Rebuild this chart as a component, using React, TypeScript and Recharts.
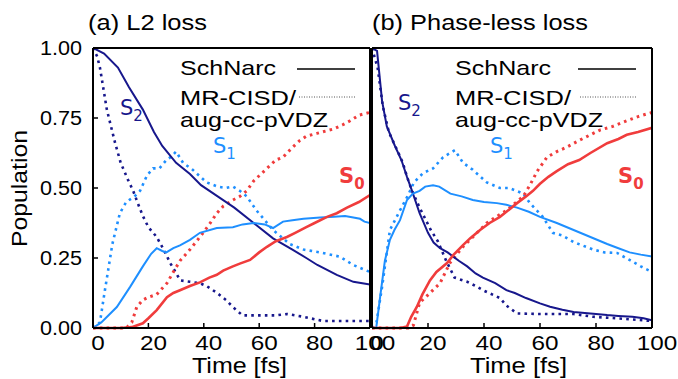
import { LineChart, Line, XAxis, YAxis } from "recharts";

type Pt = [number, number];

// (a) L2 loss — [time fs, population]
const l2SchS2: Pt[] = [[0, 1.0], [4, 0.98], [9, 0.93], [13, 0.86], [18, 0.78], [22, 0.7], [25, 0.65], [30, 0.59], [35, 0.55], [39, 0.51], [45, 0.47], [51, 0.43], [58, 0.375], [65, 0.32], [72, 0.28], [77, 0.25], [81, 0.225], [88, 0.19], [94, 0.165], [100, 0.155]];
const l2RefS2: Pt[] = [[0, 1.0], [1.5, 0.97], [2.5, 0.93], [5, 0.78], [8, 0.66], [10, 0.59], [12.6, 0.53], [14.5, 0.49], [16, 0.45], [18, 0.4], [20, 0.36], [23, 0.325], [25.5, 0.28], [28, 0.23], [31.5, 0.17], [35, 0.165], [38.6, 0.16], [41, 0.15], [44.8, 0.125], [48, 0.1], [50.5, 0.075], [54, 0.045], [62, 0.045], [66, 0.045], [70, 0.05], [76, 0.04], [83, 0.025], [100, 0.025]];
const l2SchS1: Pt[] = [[0, 0], [3, 0.02], [8.6, 0.075], [13.4, 0.147], [18, 0.22], [21, 0.265], [23, 0.285], [25, 0.275], [26.5, 0.27], [29, 0.285], [31.4, 0.295], [35, 0.315], [38.6, 0.34], [44.7, 0.357], [50.5, 0.36], [54, 0.37], [58, 0.375], [62, 0.37], [65, 0.357], [68.6, 0.38], [72, 0.385], [76, 0.39], [82, 0.395], [87, 0.397], [91, 0.4], [94, 0.395], [96.4, 0.39], [98, 0.38], [100, 0.375]];
const l2RefS1: Pt[] = [[0, 0], [2.5, 0.02], [4.3, 0.135], [7, 0.3], [9.7, 0.41], [12, 0.45], [15, 0.47], [17, 0.49], [19.5, 0.545], [21.7, 0.57], [24, 0.57], [26.5, 0.6], [28, 0.61], [30, 0.63], [32.5, 0.59], [36, 0.565], [41, 0.52], [45, 0.505], [48, 0.5], [50.5, 0.505], [53, 0.49], [55.5, 0.47], [59, 0.42], [65, 0.35], [71, 0.3], [76, 0.28], [82, 0.27], [89, 0.255], [94, 0.225], [100, 0.2]];
const l2SchS0: Pt[] = [[0, 0], [10, 0], [14, 0.003], [18, 0.017], [20, 0.035], [23, 0.064], [26.7, 0.11], [29, 0.125], [31.4, 0.135], [35, 0.15], [38.6, 0.163], [42, 0.18], [44.7, 0.19], [47, 0.205], [50.5, 0.22], [53, 0.23], [56.7, 0.243], [60, 0.27], [62.8, 0.29], [66, 0.31], [70, 0.325], [73, 0.34], [77, 0.36], [80, 0.375], [84.5, 0.397], [88, 0.41], [91.7, 0.43], [96, 0.45], [100, 0.475]];
const l2RefS0: Pt[] = [[0, 0], [12, 0], [14, 0.02], [15.8, 0.075], [18, 0.1], [20, 0.11], [23, 0.12], [26.7, 0.16], [29, 0.2], [31.4, 0.24], [35, 0.28], [38.6, 0.325], [42, 0.37], [44.7, 0.41], [47, 0.435], [50.5, 0.457], [53, 0.47], [55.5, 0.49], [58, 0.525], [62.8, 0.57], [66, 0.6], [68.6, 0.61], [72, 0.645], [74.7, 0.67], [77, 0.685], [80.8, 0.695], [86.6, 0.71], [90, 0.725], [92.8, 0.74], [96, 0.76], [100, 0.77]];

// (b) Phase-less loss
const plSchS2: Pt[] = [[0, 1.0], [1.8, 0.99], [3.6, 0.81], [5.3, 0.72], [8.2, 0.65], [10.5, 0.6], [12.5, 0.54], [14.3, 0.49], [17, 0.41], [20, 0.34], [22, 0.305], [24.3, 0.285], [27, 0.27], [29, 0.255], [31, 0.24], [34, 0.22], [37, 0.195], [39.6, 0.18], [44, 0.16], [48, 0.135], [51, 0.125], [55, 0.107], [60, 0.088], [63.6, 0.076], [68, 0.065], [72, 0.057], [78, 0.052], [84, 0.046], [88, 0.043], [93, 0.04], [97, 0.035], [100, 0.028]];
const plRefS2: Pt[] = [[0, 1.0], [2, 0.93], [3.9, 0.79], [6, 0.7], [9, 0.635], [11, 0.59], [12.5, 0.54], [14.3, 0.49], [17, 0.43], [19, 0.39], [21, 0.35], [23.5, 0.31], [26.5, 0.24], [29.5, 0.18], [34, 0.165], [37, 0.15], [39.6, 0.135], [45.7, 0.107], [48, 0.08], [51.8, 0.052], [60, 0.05], [72, 0.05], [79, 0.04], [87, 0.035], [100, 0.025]];
const plSchS1: Pt[] = [[0, 0], [1.5, 0], [2.9, 0.11], [4.6, 0.24], [6.4, 0.315], [8, 0.35], [10, 0.385], [12.5, 0.457], [14.6, 0.48], [17, 0.49], [19, 0.505], [21.8, 0.51], [24, 0.505], [28, 0.48], [32, 0.47], [36, 0.457], [40, 0.45], [44.6, 0.446], [48, 0.44], [51.8, 0.43], [56, 0.415], [60, 0.397], [66, 0.375], [72, 0.35], [78, 0.325], [84, 0.3], [88, 0.285], [92, 0.27], [96, 0.262], [100, 0.255]];
const plRefS1: Pt[] = [[0, 0], [1.6, 0.02], [3.6, 0.147], [6.4, 0.35], [10, 0.42], [12.9, 0.475], [15, 0.52], [18.2, 0.553], [21.8, 0.57], [25.4, 0.61], [29.6, 0.635], [32.5, 0.59], [36, 0.565], [41, 0.52], [45.7, 0.5], [49, 0.5], [54, 0.48], [56.4, 0.446], [61, 0.397], [64.6, 0.34], [68, 0.33], [72, 0.307], [79, 0.28], [83, 0.27], [87.5, 0.268], [92, 0.243], [96, 0.22], [100, 0.2]];
const plSchS0: Pt[] = [[0, 0], [10, 0], [12.5, 0.005], [14, 0.04], [16, 0.075], [18, 0.12], [20.7, 0.17], [23, 0.2], [26.8, 0.232], [29, 0.26], [32.5, 0.296], [35, 0.32], [38.6, 0.35], [42, 0.375], [45.7, 0.397], [48, 0.415], [51.8, 0.446], [55, 0.47], [57.5, 0.49], [60, 0.515], [63, 0.54], [66, 0.56], [70, 0.585], [74, 0.6], [78, 0.625], [84, 0.66], [88, 0.675], [91, 0.69], [95, 0.7], [100, 0.715]];
const plRefS0: Pt[] = [[0, 0], [13, 0], [14.8, 0.01], [17, 0.09], [20.7, 0.125], [24.3, 0.16], [27.8, 0.232], [32.5, 0.29], [37.5, 0.34], [41, 0.375], [44, 0.395], [48, 0.42], [51, 0.445], [54, 0.47], [56.4, 0.51], [59, 0.56], [62.5, 0.61], [66, 0.63], [69.6, 0.646], [74, 0.67], [78, 0.69], [81.4, 0.707], [86, 0.72], [91, 0.74], [95, 0.755], [100, 0.77]];

const xTicks = [0, 20, 40, 60, 80, 100];
const yTicks = [0, 0.25, 0.5, 0.75, 1.0];

const NAVY = "#17178c";
const BLUE = "#1e8fff";
const RED = "#f03c3c";
const FONT = "'Liberation Sans', Arial, sans-serif";

// merge point lists into one table keyed by time
function buildTable(series: Record<string, Pt[]>) {
  const rows = new Map<number, Record<string, number>>();
  for (const key of Object.keys(series)) {
    for (const [t, v] of series[key]) {
      const row = rows.get(t) ?? { t };
      row[key] = v;
      rows.set(t, row);
    }
  }
  return [...rows.values()].sort((a, b) => a.t - b.t);
}

const frame = { stroke: "#000", strokeWidth: 2 };
const tickLn = { stroke: "#000", strokeWidth: 1.5 };

// the source figure is a bit stretched sideways, so labels get a fixed width
function XTick(props: any) {
  const s = String(props.payload.value);
  return (
    <text x={props.x + 5} y={props.y} dy="0.71em" textAnchor="middle" fontSize={21} fontFamily={FONT}
      fill="#000" textLength={s.length * 13.5} lengthAdjust="spacingAndGlyphs">{s}</text>
  );
}

function YTick(props: any) {
  const s = Number(props.payload.value).toFixed(2);
  return (
    <text x={props.x} y={props.y} dy="0.36em" textAnchor="end" fontSize={20} fontFamily={FONT}
      fill="#000" textLength={42} lengthAdjust="spacingAndGlyphs">{s}</text>
  );
}

interface PanelProps {
  data: Record<string, number>[];
  width: number;
  margin: { top: number; right: number; bottom: number; left: number };
  showY: boolean;
}

function Panel({ data, width, margin, showY }: PanelProps) {
  const dotted = { strokeWidth: 2.6, strokeDasharray: "2.6 4.2", dot: false, connectNulls: true, isAnimationActive: false, type: "linear" as const, xAxisId: "b", yAxisId: "l" };
  const solid = { dot: false, connectNulls: true, isAnimationActive: false, type: "linear" as const, xAxisId: "b", yAxisId: "l" };
  return (
    <LineChart width={width} height={379} data={data} margin={margin}>
      <XAxis xAxisId="b" dataKey="t" type="number" domain={[0, 100]} ticks={xTicks} allowDataOverflow
        height={30} axisLine={frame} tickLine={tickLn} tickSize={-5} tickMargin={12}
        tick={XTick} interval={0} />
      <XAxis xAxisId="top" orientation="top" dataKey="t" type="number" domain={[0, 100]} ticks={xTicks}
        height={1} axisLine={frame} tickLine={tickLn} tickSize={-5} tick={false} />
      {showY ? (
        <YAxis yAxisId="l" type="number" domain={[0, 1]} ticks={yTicks} width={60}
          axisLine={frame} tickLine={tickLn} tickSize={-5} tickMargin={16}
          tick={YTick} interval={0} />
      ) : (
        <YAxis yAxisId="l" type="number" domain={[0, 1]} ticks={yTicks} width={1}
          axisLine={frame} tickLine={false} tick={false} />
      )}
      <YAxis yAxisId="r" orientation="right" type="number" domain={[0, 1]} ticks={yTicks} width={1}
        axisLine={frame} tickLine={tickLn} tickSize={-5} tick={false} />
      <Line {...dotted} dataKey="refS2" stroke={NAVY} />
      <Line {...dotted} dataKey="refS1" stroke={BLUE} />
      <Line {...dotted} dataKey="refS0" stroke={RED} strokeWidth={3} />
      <Line {...solid} dataKey="schS2" stroke={NAVY} strokeWidth={2} />
      <Line {...solid} dataKey="schS1" stroke={BLUE} strokeWidth={2} />
      <Line {...solid} dataKey="schS0" stroke={RED} strokeWidth={2.6} />
    </LineChart>
  );
}

const dataA = buildTable({ schS2: l2SchS2, refS2: l2RefS2, schS1: l2SchS1, refS1: l2RefS1, schS0: l2SchS0, refS0: l2RefS0 });
const dataB = buildTable({ schS2: plSchS2, refS2: plRefS2, schS1: plSchS1, refS1: plRefS1, schS0: plSchS0, refS0: plRefS0 });

function StateLabel({ x, y, color, sub, bold }: { x: number; y: number; color: string; sub: string; bold?: boolean }) {
  return (
    <text x={x} y={y} fill={color} fontSize={21} fontFamily="'DejaVu Sans', sans-serif" fontWeight={bold ? 700 : 400}>
      S<tspan dy={6} fontSize={15}>{sub}</tspan>
    </text>
  );
}

function Legend({ x, lineX }: { x: number; lineX: number }) {
  return (
    <g fontFamily={FONT} fontSize={21} fill="#000">
      <text x={x} y={75} textLength={96} lengthAdjust="spacingAndGlyphs">SchNarc</text>
      <line x1={lineX} x2={lineX + 58} y1={69} y2={69} stroke="#000" strokeWidth={1.5} />
      <text x={x} y={105} textLength={116} lengthAdjust="spacingAndGlyphs">MR-CISD/</text>
      <line x1={lineX + 2} x2={lineX + 58} y1={97} y2={97} stroke="#555" strokeWidth={1} strokeDasharray="1 1.5" />
      <text x={x} y={127} textLength={148} lengthAdjust="spacingAndGlyphs">aug-cc-pVDZ</text>
    </g>
  );
}

export default function App() {
  return (
    <div style={{ position: "absolute", left: 0, top: 0, width: 678, height: 379, background: "#fff", overflow: "hidden" }}>
      <div style={{ position: "absolute", left: 0, top: 0 }}>
        <Panel data={dataA} width={400} margin={{ top: 47, right: 29, bottom: 21, left: 33 }} showY />
      </div>
      <div style={{ position: "absolute", left: 340, top: 0 }}>
        <Panel data={dataB} width={338} margin={{ top: 47, right: 25, bottom: 21, left: 31 }} showY={false} />
      </div>
      <svg width={678} height={379} style={{ position: "absolute", left: 0, top: 0, pointerEvents: "none" }}>
        <g fontFamily={FONT} fill="#000">
          <text x={88} y={30} fontSize={22} textLength={119} lengthAdjust="spacingAndGlyphs">(a) L2 loss</text>
          <text x={372} y={30} fontSize={22} textLength={216} lengthAdjust="spacingAndGlyphs">(b) Phase-less loss</text>
          <text transform="translate(27,247) rotate(-90)" fontSize={22} textLength={117} lengthAdjust="spacingAndGlyphs">Population</text>
          <text x={192} y={373} fontSize={22} textLength={95} lengthAdjust="spacingAndGlyphs">Time [fs]</text>
          <text x={470} y={373} fontSize={22} textLength={97} lengthAdjust="spacingAndGlyphs">Time [fs]</text>
        </g>
        <Legend x={180} lineX={297} />
        <Legend x={455} lineX={578} />
        <StateLabel x={120} y={115} color={NAVY} sub="2" />
        <StateLabel x={213} y={153} color={BLUE} sub="1" />
        <StateLabel x={339} y={183} color={RED} sub="0" bold />
        <StateLabel x={398} y={110} color={NAVY} sub="2" />
        <StateLabel x={490} y={153} color={BLUE} sub="1" />
        <StateLabel x={618} y={183} color={RED} sub="0" bold />
      </svg>
    </div>
  );
}
